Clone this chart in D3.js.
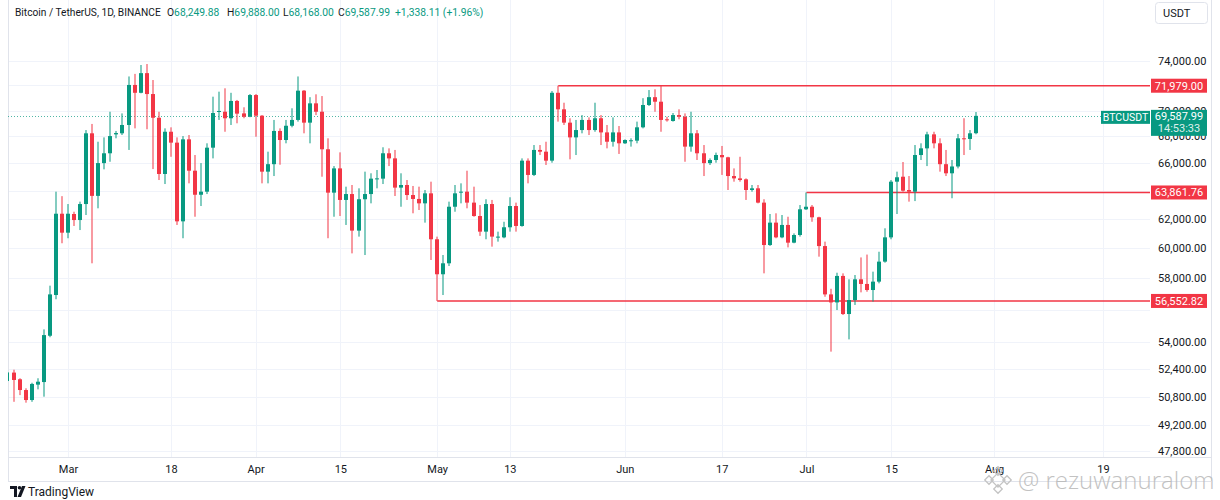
<!DOCTYPE html>
<html>
<head>
<meta charset="utf-8">
<script src="https://cdn.jsdelivr.net/npm/d3@7"></script>
<style>
  body { margin: 0; background: #fff; }
  svg { display: block; font-family: Roboto, "Noto Sans", sans-serif; }
</style>
</head>
<body>
<script>
// BTCUSDT daily candles
var UP = "#089981", DOWN = "#f23645", TEXT = "#131722", GRID = "#f0f3fa", BORDER = "#e0e3eb";

var firstDay = "2024-02-20", lastDay = "2024-07-29";

var open = [
  51700, 52190, 51800, 51180, 50610, 51490, 51640, 54390, 56930, 62360,
  // Mar
  61050, 62340, 61920, 63040, 68240, 63620, 66000, 66730, 68160, 68240,
  68880, 72040, 71410, 73000, 71310, 69440, 65200, 68360, 67530, 61830,
  67780, 65440, 63700, 63920, 67150, 69890, 69910, 69400, 70760, 69780, 69520,
  // Apr
  71230, 69600, 65370, 65920, 68420, 67730, 68820, 69270, 71580, 69060,
  70570, 69910, 67030, 63850, 65610, 63330, 63750, 61190, 63380, 63750,
  64860, 64860, 66730, 66350, 64210, 64400, 63680, 63400, 63090, 63800,
  // May
  60600, 58270, 58990, 62850, 63850, 63920, 63140, 62200, 61120, 63040,
  60730, 60730, 61420, 62900, 61510, 66180, 65130, 66980, 66850, 66180,
  71410, 70100, 69060, 67930, 68490, 69270, 68490, 69400, 68310, 67600, 68310,
  // Jun
  67480, 67680, 67680, 68700, 70440, 71060, 70700, 69320, 69190, 69650,
  69520, 67230, 68240, 66730, 66000, 66230, 66600, 66430, 65050, 64880,
  64810, 64040, 64160, 63140, 60210, 61740, 60730, 61580, 60370, 60890,
  // Jul
  62670, 62850, 62110, 60140, 56970, 56460, 58160, 55730, 56610, 57940,
  57640, 57250, 57790, 59100, 60730, 64640, 65000, 64040, 63920, 66600,
  67100, 68160, 67480, 65920, 65250, 65750, 67860, 67810, 68249.88
];
var high = [
  52350, 52360, 51860, 51280, 51600, 51860, 54780, 57530, 63920, 63600,
  63040, 62500, 63210, 68490, 68960, 67600, 67930, 69910, 68420, 69780,
  72730, 72940, 73670, 73750, 72440, 69910, 68620, 68700, 67930, 68030,
  68110, 66600, 66000, 67480, 71100, 71500, 71770, 71410, 70840, 70260, 71310,
  71310, 69650, 66850, 69270, 68620, 69270, 70180, 72730, 71630, 71060,
  71290, 71150, 67860, 65780, 66800, 64280, 64400, 64160, 65370, 65250,
  65490, 67180, 67100, 66980, 65250, 64760, 64330, 64280, 64040, 64640,
  60780, 59540, 63210, 64400, 64520, 65440, 64280, 62970, 63380, 63330,
  61120, 61800, 63520, 63140, 66350, 66350, 67350, 67350, 67600, 71550,
  71979, 70620, 69400, 69270, 69650, 69470, 70620, 69650, 68880, 69470, 68800,
  67780, 67860, 69140, 70980, 71630, 71690, 71990, 69520, 69810, 70100,
  69780, 69910, 68490, 67350, 66350, 66780, 67280, 66470, 65610, 66470,
  64880, 64400, 64400, 63380, 62340, 62390, 62270, 62150, 61000, 62970,
  63861.76, 62970, 62150, 60440, 57330, 58370, 58330, 57940, 58220, 59380,
  59570, 58440, 59760, 61350, 64760, 65370, 66080, 65050, 67350, 67480,
  68360, 68360, 67860, 66980, 66230, 68190, 69400, 68490, 69888
];
var low = [
  51500, 50510, 50890, 50460, 50510, 51220, 50800, 54300, 56660, 60330,
  60670, 61510, 61230, 62270, 58990, 62740, 65540, 66100, 67860, 68110,
  66980, 68620, 71370, 68550, 65560, 64760, 64470, 66470, 61580, 60670,
  64520, 62150, 62900, 63750, 66350, 69270, 68360, 68880, 69010, 69400, 69480,
  67980, 64520, 64520, 65050, 65880, 67480, 68700, 69140, 68240, 67480,
  69650, 65000, 60670, 62150, 62200, 61580, 59650, 60780, 59540, 63090,
  64160, 64470, 65780, 63610, 62850, 63330, 62390, 62620, 61740, 59210,
  56552.82, 56930, 58810, 62500, 63090, 62740, 62150, 60830, 60600, 60100,
  60440, 60670, 61120, 61120, 61460, 64520, 65050, 66600, 65860, 66030,
  69140, 68880, 66280, 66600, 68240, 68110, 68360, 67350, 67100, 67230, 66680,
  67430, 67230, 67480, 68620, 70360, 69910, 68360, 69140, 69140, 69320,
  66100, 66850, 66230, 65050, 65860, 66030, 65130, 64040, 64640, 64640,
  63330, 63920, 63090, 58330, 60150, 60670, 60670, 60050, 60330, 60780,
  62620, 61800, 59430, 56820, 53430, 55980, 55670, 54170, 56300, 57100,
  57140, 56510, 57680, 59030, 60600, 62340, 63920, 63210, 63250, 66230,
  65780, 67100, 65370, 65050, 63450, 65610, 66600, 66980, 68168
];
var close = [
  52200, 51760, 51180, 50610, 51530, 51660, 54430, 56970, 62360, 61050,
  62360, 61920, 63040, 68240, 63620, 66000, 66730, 68030, 68260, 68880,
  72040, 71410, 73000, 71310, 69440, 65200, 68360, 67530, 61830, 67780,
  65440, 63700, 63920, 67150, 69810, 69970, 69400, 70760, 69760, 69520, 71230,
  69600, 65370, 65920, 68420, 67730, 68820, 69270, 71580, 69060, 70570,
  69910, 67030, 63850, 65610, 63330, 63750, 61190, 63380, 63750, 64860,
  64880, 66730, 66350, 64210, 64400, 63680, 63400, 63090, 63800, 60600,
  58270, 58990, 62850, 63800, 63920, 63140, 62200, 61120, 63040, 60780,
  60780, 61420, 62900, 61510, 66180, 65130, 66980, 66850, 66180, 71410,
  70100, 69060, 67930, 68490, 69270, 68490, 69400, 68310, 67600, 68310, 67480,
  67730, 67710, 68700, 70440, 71060, 70700, 69270, 69290, 69650, 69520,
  67230, 68240, 66730, 66000, 66230, 66600, 66430, 65050, 64880, 64760,
  64040, 64160, 63140, 60210, 61740, 60730, 61580, 60370, 60890, 62670,
  62850, 62110, 60140, 56970, 56460, 58160, 55730, 56610, 57940, 57640,
  57250, 57790, 59100, 60730, 64640, 64960, 63990, 63920, 66600, 67100,
  68160, 67480, 65920, 65250, 65750, 67860, 67810, 68240, 69587.99
];

var priceTicks = [74000, 72000, 70000, 68000, 66000, 64000, 62000, 60000, 58000, 56000, 54000, 52400, 50800, 49200, 47800];
var timeTicks = ["2024-03-01", "2024-03-18", "2024-04-01", "2024-04-15", "2024-05-01", "2024-05-13",
                 "2024-06-01", "2024-06-17", "2024-07-01", "2024-07-15", "2024-08-01", "2024-08-19"];
var timeLabels = ["Mar", "18", "Apr", "15", "May", "13", "Jun", "17", "Jul", "15", "Aug", "19"];

var levelValues = [71979.00, 63861.76, 56552.82];
var levelStart = ["2024-05-21", "2024-07-01", "2024-05-01"];

var lastPrice = 69587.99, countdown = "14:53:33", symbol = "BTCUSDT", quote = "USDT";
var title = "Bitcoin / TetherUS, 1D, BINANCE";
var ohlcLetters = ["O", "H", "L", "C", ""];
var ohlcValues = ["68,249.88", "69,888.00", "68,168.00", "69,587.99", "+1,338.11 (+1.96%)"];

// layout
var WIDTH = 1220, HEIGHT = 500;
var LEFT = 8, PANE_R = 1150, RIGHT = 1211, PANE_B = 457, AXIS_B = 481;
var legendX = [167, 227, 283, 338, 395];

var dates = d3.utcDay.range(new Date(firstDay), d3.utcDay.offset(new Date(lastDay), 1));
var candles = dates.map(function(d, i) {
  return {date: d, o: open[i], h: high[i], l: low[i], c: close[i]};
});

var x = d3.scaleUtc()
  .domain([new Date("2024-03-01"), new Date("2024-08-19")])
  .range([68, 1103]);
var y = d3.scaleLog()
  .domain([47800, 74000])
  .range([451, 61]);

// a tick label hidden under a level tag is not drawn (the gridline stays)
function hiddenByLevel(t) {
  return levelValues.some(function(v) { return Math.abs(y(v) - y(t)) < 9; });
}

var svg = d3.select("body").append("svg")
  .attr("width", WIDTH)
  .attr("height", HEIGHT);

svg.append("rect").attr("width", WIDTH).attr("height", HEIGHT).attr("fill", "#fff");

svg.append("clipPath").attr("id", "pane")
  .append("rect").attr("x", LEFT).attr("y", 0).attr("width", PANE_R - LEFT).attr("height", PANE_B);

// grid
var grid = svg.append("g");
grid.selectAll("line.h").data(priceTicks).enter().append("line")
  .attr("x1", LEFT).attr("x2", PANE_R)
  .attr("y1", function(d) { return Math.round(y(d)) + 0.5; })
  .attr("y2", function(d) { return Math.round(y(d)) + 0.5; })
  .attr("stroke", GRID);
grid.selectAll("line.v").data(timeTicks).enter().append("line")
  .attr("x1", function(d) { return Math.round(x(new Date(d))) + 0.5; })
  .attr("x2", function(d) { return Math.round(x(new Date(d))) + 0.5; })
  .attr("y1", 0).attr("y2", PANE_B)
  .attr("stroke", GRID);

// borders
var b = svg.append("g").attr("stroke", BORDER).attr("fill", "none");
b.append("line").attr("x1", LEFT + 0.5).attr("x2", LEFT + 0.5).attr("y1", 0).attr("y2", AXIS_B);
b.append("line").attr("x1", RIGHT + 0.5).attr("x2", RIGHT + 0.5).attr("y1", 0).attr("y2", AXIS_B);
b.append("line").attr("x1", LEFT).attr("x2", RIGHT).attr("y1", PANE_B + 0.5).attr("y2", PANE_B + 0.5);
b.append("line").attr("x1", LEFT).attr("x2", RIGHT).attr("y1", AXIS_B + 0.5).attr("y2", AXIS_B + 0.5);

var pane = svg.append("g").attr("clip-path", "url(#pane)");

// last price dotted line
pane.append("line")
  .attr("x1", LEFT).attr("x2", PANE_R)
  .attr("y1", Math.round(y(lastPrice)) + 0.5).attr("y2", Math.round(y(lastPrice)) + 0.5)
  .attr("stroke", UP).attr("stroke-dasharray", "1,2").attr("opacity", 0.7);

// horizontal levels
pane.selectAll("line.level").data(levelValues).enter().append("line")
  .attr("x1", function(d, i) { return x(new Date(levelStart[i])); })
  .attr("x2", PANE_R)
  .attr("y1", function(d) { return y(d); })
  .attr("y2", function(d) { return y(d); })
  .attr("stroke", DOWN).attr("stroke-width", 1.5);

// candles
var cg = pane.selectAll("g.candle").data(candles).enter().append("g")
  .attr("fill", function(d) { return d.c >= d.o ? UP : DOWN; });
cg.append("rect")
  .attr("x", function(d) { return Math.round(x(d.date)) - 0.5; })
  .attr("width", 1)
  .attr("y", function(d) { return y(d.h); })
  .attr("height", function(d) { return y(d.l) - y(d.h); });
cg.append("rect")
  .attr("x", function(d) { return Math.round(x(d.date)) - 2; })
  .attr("width", 4)
  .attr("y", function(d) { return y(Math.max(d.o, d.c)); })
  .attr("height", function(d) { return Math.max(1, Math.abs(y(d.o) - y(d.c))); });

// price axis
var yAxis = svg.append("g")
  .attr("transform", "translate(" + PANE_R + ",0)")
  .call(d3.axisRight(y)
    .tickValues(priceTicks.filter(function(t) { return !hiddenByLevel(t); }))
    .tickFormat(d3.format(",.2f")).tickSize(0).tickPadding(8));
yAxis.select(".domain").remove();
yAxis.selectAll("text").attr("fill", TEXT).style("font-size", "11px").style("font-family", "Roboto, sans-serif");

// time axis
var xAxis = svg.append("g")
  .attr("transform", "translate(0," + PANE_B + ")")
  .call(d3.axisBottom(x)
    .tickValues(timeTicks.map(function(d) { return new Date(d); }))
    .tickFormat(function(d, i) { return timeLabels[i]; })
    .tickSize(0).tickPadding(8));
xAxis.select(".domain").remove();
xAxis.selectAll("text").attr("fill", TEXT).style("font-size", "11px").style("font-family", "Roboto, sans-serif");

// level labels on the price scale
var lv = svg.selectAll("g.lvl").data(levelValues).enter().append("g");
lv.append("rect")
  .attr("x", PANE_R + 1).attr("width", 56)
  .attr("y", function(d) { return y(d) - 7; }).attr("height", 14)
  .attr("fill", DOWN);
lv.append("text")
  .attr("x", PANE_R + 29).attr("y", function(d) { return y(d); })
  .attr("dy", "0.35em").attr("text-anchor", "middle")
  .attr("fill", "#fff").style("font-size", "11px")
  .text(function(d) { return d3.format(",.2f")(d); });

// last price label
var yl = y(lastPrice);
svg.append("rect").attr("x", PANE_R + 1).attr("width", 56).attr("y", yl - 6).attr("height", 26).attr("fill", UP);
svg.append("text").attr("x", PANE_R + 29).attr("y", yl).attr("dy", "0.35em")
  .attr("text-anchor", "middle").attr("fill", "#fff").style("font-size", "11px")
  .text(d3.format(",.2f")(lastPrice));
svg.append("text").attr("x", PANE_R + 29).attr("y", yl + 12.5).attr("dy", "0.35em")
  .attr("text-anchor", "middle").attr("fill", "#fff").attr("opacity", 0.85).style("font-size", "11px")
  .text(countdown);
svg.append("rect").attr("x", PANE_R - 49).attr("width", 49).attr("y", yl - 5).attr("height", 13).attr("fill", UP);
svg.append("text").attr("x", PANE_R - 24.5).attr("y", yl + 1.5).attr("dy", "0.35em")
  .attr("text-anchor", "middle").attr("fill", "#fff").style("font-size", "10.5px")
  .text(symbol);

// currency button
svg.append("rect").attr("x", 1155.5).attr("y", 2.5).attr("width", 52).attr("height", 21).attr("rx", 3)
  .attr("fill", "#fff").attr("stroke", BORDER);
svg.append("text").attr("x", 1163).attr("y", 13).attr("dy", "0.35em")
  .attr("fill", TEXT).style("font-size", "11px").text(quote);

// legend line
svg.append("text").attr("x", 15).attr("y", 12).attr("dy", "0.35em")
  .attr("fill", TEXT).style("font-size", "10.2px").text(title);
ohlcLetters.forEach(function(l, i) {
  var t = svg.append("text").attr("x", legendX[i]).attr("y", 12).attr("dy", "0.35em").style("font-size", "10.3px");
  if (l) t.append("tspan").attr("fill", TEXT).text(l);
  t.append("tspan").attr("fill", UP).text(ohlcValues[i]);
});

// TradingView mark
var tv = svg.append("g").attr("transform", "translate(10,486)").attr("fill", TEXT);
tv.append("path").attr("d", "M0,0H7V11H4V3H0Z");
tv.append("circle").attr("cx", 9.5).attr("cy", 1.8).attr("r", 1.8);
tv.append("path").attr("d", "M12,0H15.5L11,11H7.5Z");
svg.append("text").attr("x", 28).attr("y", 492).attr("dy", "0.35em")
  .attr("fill", TEXT).style("font-size", "12px").text("TradingView");

// watermark
var wm = svg.append("g").attr("fill", "none").attr("stroke", "#c4c4c4").attr("stroke-width", 1.3)
  .attr("transform", "translate(998,480)");
[[0, 0, 5], [0, -9, 3], [0, 9, 3], [-9, 0, 3], [9, 0, 3]].forEach(function(s) {
  wm.append("rect").attr("x", s[0] - s[2]).attr("y", s[1] - s[2]).attr("width", 2 * s[2]).attr("height", 2 * s[2])
    .attr("transform", "rotate(45," + s[0] + "," + s[1] + ")");
});
svg.append("text").attr("x", 1018).attr("y", 481).attr("dy", "0.35em")
  .attr("fill", "#b8b8b8").attr("opacity", 0.85)
  .style("font-size", "24px").style("font-family", "'Open Sans', sans-serif").style("font-weight", 300)
  .text("@ rezuwanuralom");
</script>
</body>
</html>
